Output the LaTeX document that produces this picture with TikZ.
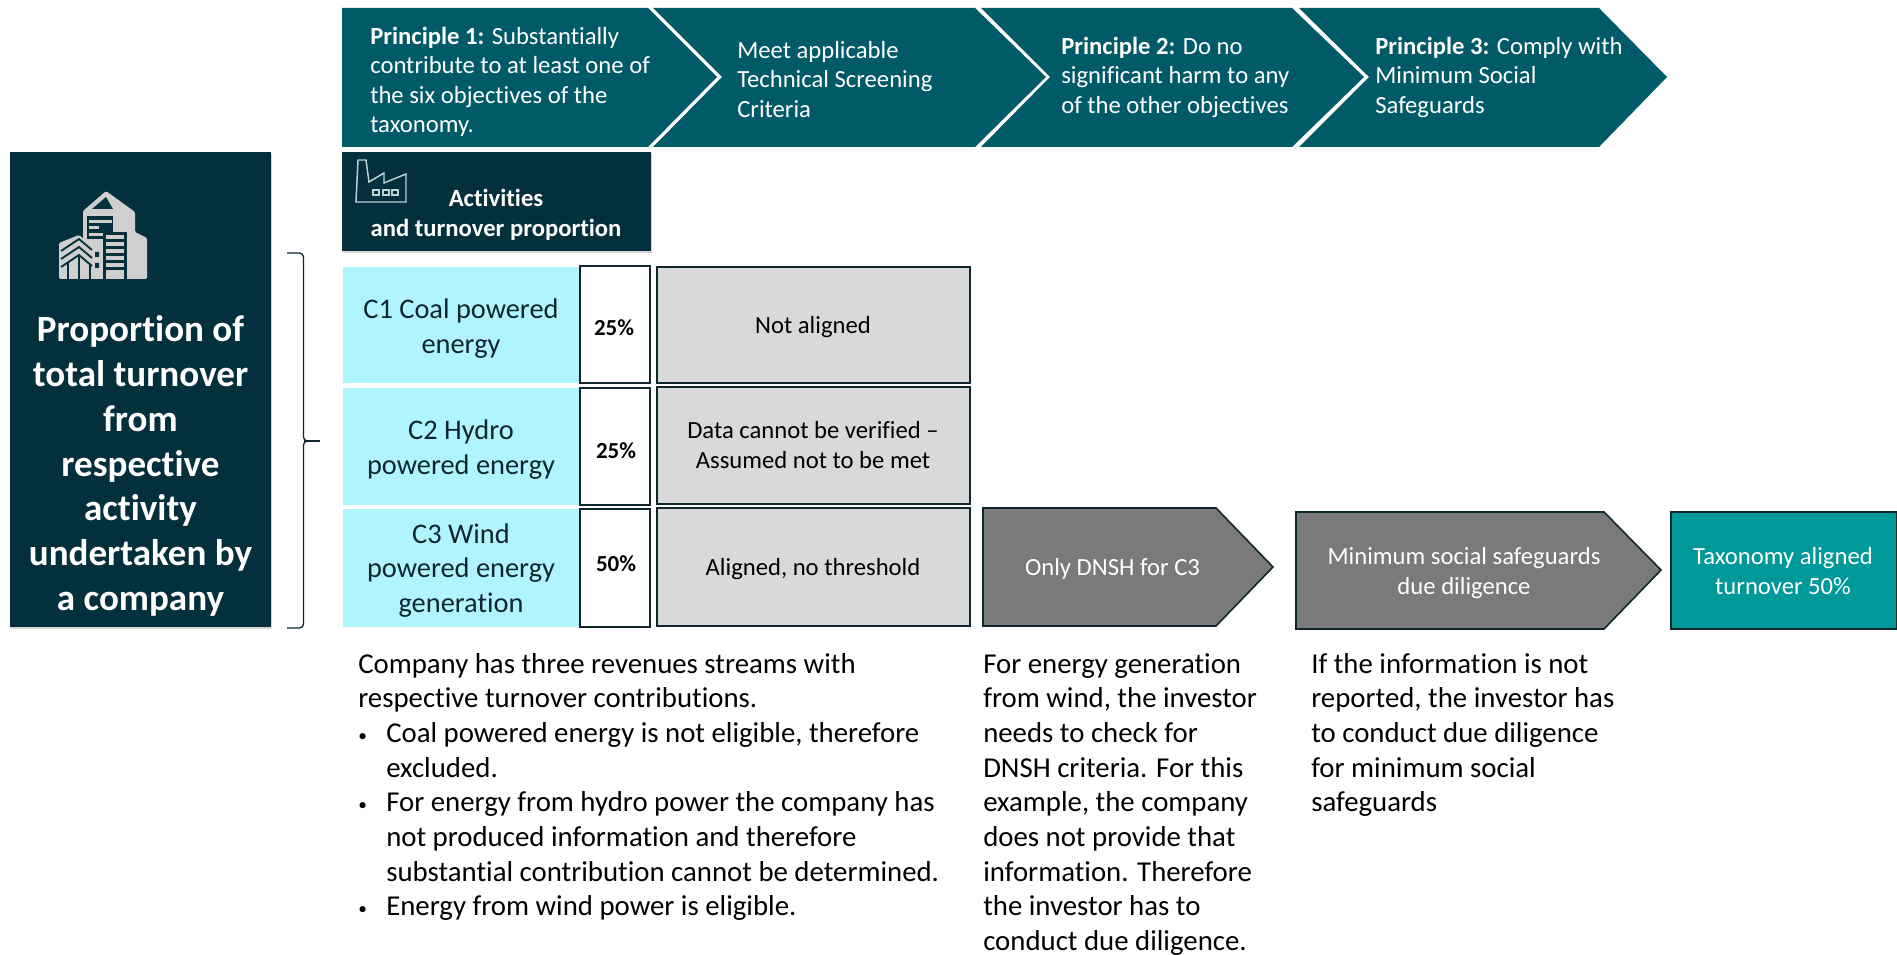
\documentclass[tikz,border=0pt]{standalone}
\usepackage{fontspec}
\setmainfont{Carlito}[Ligatures=NoCommon]
\usetikzlibrary{shadows}
\definecolor{chev}{HTML}{005A68}
\definecolor{deep}{HTML}{03303C}
\definecolor{cy}{HTML}{AFF4FE}
\definecolor{lg}{HTML}{D9D9D9}
\definecolor{dg}{HTML}{7A7A7A}
\definecolor{tl}{HTML}{009999}
\definecolor{edge}{HTML}{10262E}
\definecolor{ic}{HTML}{CFCFCF}
\definecolor{icb}{HTML}{BDD3D6}
\newcommand{\bl}{\makebox[21pt][l]{\fontsize{13}{13}\selectfont\raisebox{1pt}{•}}}
\newcommand{\ind}{\makebox[21pt]{}}
\tikzset{
 x=0.75pt,y=-0.75pt,
 txt/.style={inner sep=0pt,font=\fontsize{18.5}{22}\selectfont,align=left,anchor=north west},
 ctr/.style={inner sep=0pt,font=\fontsize{18.5}{22.5}\selectfont,align=center,anchor=center,text=black},
 cname/.style={inner sep=0pt,font=\fontsize{21.3}{26}\selectfont,align=center,anchor=center,text=edge},
 chevtxt/.style={txt,text=white},
 pct/.style={inner sep=0pt,font=\fontsize{17.2}{20}\selectfont\bfseries,anchor=center},
 bodytxt/.style={inner sep=0pt,font=\fontsize{21.6}{26}\selectfont,align=left,anchor=north west},
 box/.style={draw=edge,line width=1.2pt},
}
\begin{document}
\begin{tikzpicture}
\useasboundingbox (0,0) rectangle (1897,955);
% top chevrons
\fill[chev] (342,8)--(648,8)--(717,77)--(648,147)--(342,147)--cycle;
\fill[chev] (653,8)--(975,8)--(1046,77)--(975,147)--(653,147)--(722,77)--cycle;
\fill[chev] (981,8)--(1292,8)--(1364,77)--(1292,147)--(981,147)--(1050,77)--cycle;
\fill[chev] (1299,8)--(1599,8)--(1667,77)--(1599,147)--(1299,147)--(1369,77)--cycle;
\node[chevtxt] (p1) at (370,27) {\textbf{Principle 1:} Substantially\\contribute to at least one of\\the six objectives of the\\taxonomy.};
\node[chevtxt] (p1b) at (737,41) {Meet applicable\\Technical Screening\\Criteria};
\node[chevtxt] (p2) at (1061,37) {\textbf{Principle 2:} Do no\\significant harm to any\\of the other objectives};
\node[chevtxt] (p3) at (1375,37) {\textbf{Principle 3:} Comply with\\Minimum Social\\Safeguards};
% left box
\fill[deep,drop shadow={shadow xshift=0.5pt,shadow yshift=-1.5pt,opacity=.35}] (10,152) rectangle (271,627);
\node[inner sep=0pt,text=white,font=\fontsize{27.8}{33.6}\selectfont\bfseries,align=center,anchor=north] (lbl) at (140.5,315.5) {Proportion of\\total turnover\\from\\respective\\activity\\undertaken by\\a company};
% building icon
\begin{scope}[shift={(59,190)}]
\fill[ic,rounded corners=1pt] (0,89)--(0,53)--(20,45)--(36,58)--(44,58)--(44,89)--cycle;
\fill[ic,rounded corners=1pt] (24,55)--(24,21)--(47,1)--(76,22)--(76,42)--(88,48)--(88,89)--(30,89)--(30,55)--cycle;
\fill[deep] (33,19)--(47,7)--(54,19)--cycle;
\fill[deep] (28,26) rectangle (54,49);
\fill[ic] (30,30) rectangle (53,33);
\fill[ic] (30,36.5) rectangle (40,39.5);
\fill[ic] (30,43) rectangle (44,46);
\fill[deep] (44,42) rectangle (68,89);
\foreach \yy in {45,52,59,66,73} \fill[ic] (47,\yy) rectangle (65,\yy+4);
\fill[ic] (47,80) rectangle (65,89);
\begin{scope}[deep,line width=1.4pt]
\draw (2,61)--(20,49)--(33,60) (2,69)--(20,57)--(33,68) (2,77)--(20,65)--(33,76);
\draw (20,66)--(20,89) (9,73)--(9,89) (31,75)--(31,89);
\fill (36,62) rectangle (40,67) (36,73) rectangle (40,78);
\end{scope}
\end{scope}
% activities box
\fill[deep,drop shadow={shadow xshift=0.5pt,shadow yshift=-1.5pt,opacity=.35}] (342,152) rectangle (651,251);
\draw[icb,line width=1.1pt] (356,202)--(358,160)--(366,160)--(369,182)--(384,173)--(384,183)--(406,174)--(406,202)--cycle;
\foreach \xx in {373,383,392} \draw[icb,line width=1.3pt] (\xx,190) rectangle (\xx+6,195);
\node[inner sep=0pt,text=white,font=\fontsize{18.5}{22.5}\selectfont\bfseries,align=center,anchor=center] (act) at (496,214.5) {Activities\\and turnover proportion};
% table rows
\fill[cy] (343,267) rectangle (580,383);
\fill[cy] (343,388) rectangle (580,505);
\fill[cy] (343,509) rectangle (580,627);
\node[cname] (c1) at (461,328.5) {C1 Coal powered\\energy};
\node[cname] (c2) at (461,449.5) {C2 Hydro\\powered energy};
\node[cname] (c3) at (461,570.5) {C3 Wind\\powered energy\\generation};
\draw[box,fill=white] (580,266) rectangle (650,383);
\draw[box,fill=white] (580,388) rectangle (650,505);
\draw[box,fill=white] (580,509) rectangle (650,627);
\node[pct] (v1) at (614,328) {25\%};
\node[pct] (v2) at (616,451) {25\%};
\node[pct] (v3) at (616,564) {50\%};
\draw[box,fill=lg] (657,267) rectangle (970,383);
\draw[box,fill=lg] (657,387) rectangle (970,504);
\draw[box,fill=lg] (657,508) rectangle (970,626);
\node[ctr] (a1) at (813,327) {Not aligned};
\node[ctr] (a2) at (813,445) {Data cannot be verified --\\Assumed not to be met};
\node[ctr] (a3) at (813,569) {Aligned, no threshold};
% brace
\draw[edge,line width=1pt,rounded corners=3pt] (287,253)--(303.5,253)--(303.5,441)--(311,441);
\draw[edge,line width=1pt] (320,441)--(303.5,441);
\draw[edge,line width=1pt,rounded corners=3pt] (287,628)--(303.5,628)--(303.5,441)--(311,441);
% lower arrows
\draw[box,fill=dg] (983,508)--(1216,508)--(1273,567)--(1216,626)--(983,626)--cycle;
\node[ctr,text=white] (dn) at (1112.5,569) {Only DNSH for C3};
\draw[box,fill=dg] (1296,512)--(1604,512)--(1661,570)--(1604,629)--(1296,629)--cycle;
\node[ctr,text=white] (ms) at (1464,573) {Minimum social safeguards\\due diligence};
\draw[box,fill=tl] (1671,512) rectangle (1896.4,629);
\node[ctr,text=white] (ta) at (1783,571.5) {Taxonomy aligned\\turnover 50\%};
% notes
\node[bodytxt] (n1) at (358,653) {Company has three revenues streams with\\respective turnover contributions.\\\bl Coal powered energy is not eligible, therefore\\\ind excluded.\\\bl For energy from hydro power the company has\\\ind not produced information and therefore\\\ind substantial contribution cannot be determined.\\\bl Energy from wind power is eligible.};
\node[bodytxt] (n2) at (983,653) {For energy generation\\from wind, the investor\\needs to check for\\DNSH criteria. For this\\example, the company\\does not provide that\\information. Therefore\\the investor has to\\conduct due diligence.};
\node[bodytxt] (n3) at (1311,653) {If the information is not\\reported, the investor has\\to conduct due diligence\\for minimum social\\safeguards};
\end{tikzpicture}
\end{document}
